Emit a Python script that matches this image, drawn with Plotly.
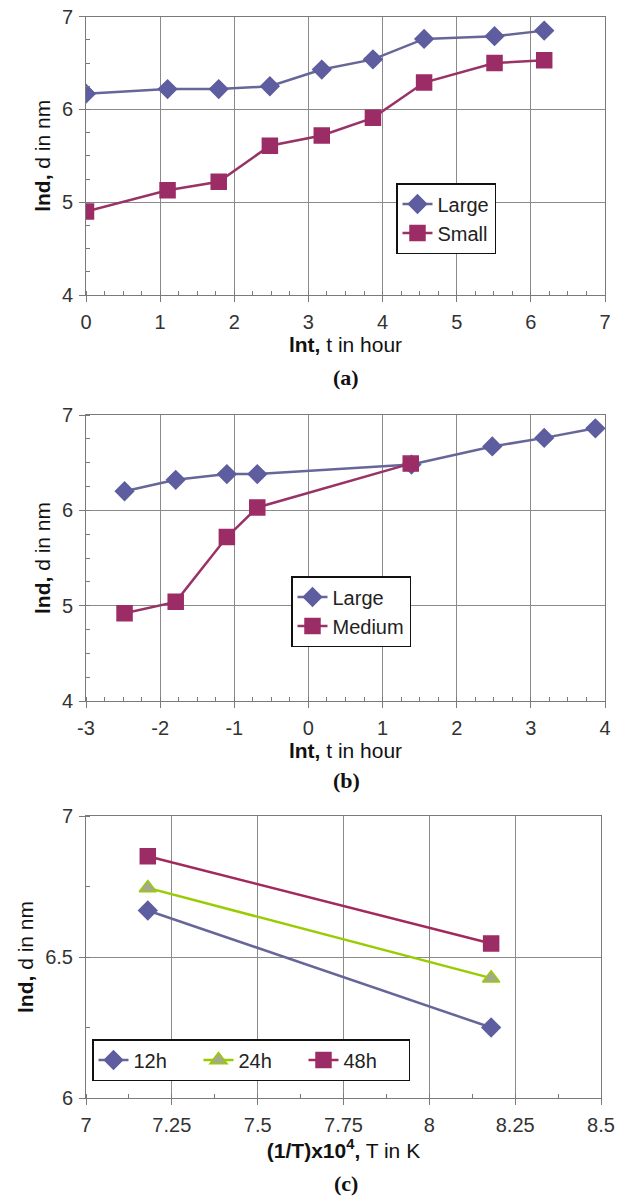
import plotly.graph_objects as go

# ---------------- data ----------------
# panel (a)
a_x = [0, 1.10, 1.79, 2.48, 3.18, 3.87, 4.56, 5.51, 6.18]
a_large = [6.17, 6.22, 6.22, 6.25, 6.43, 6.54, 6.76, 6.79, 6.85]
a_small = [4.90, 5.13, 5.22, 5.61, 5.72, 5.91, 6.29, 6.50, 6.53]

# panel (b)
b_large_x = [-2.48, -1.79, -1.10, -0.69, 1.39, 2.48, 3.18, 3.87]
b_large = [6.20, 6.32, 6.38, 6.38, 6.48, 6.67, 6.76, 6.86]
b_medium_x = [-2.48, -1.79, -1.10, -0.69, 1.38]
b_medium = [4.92, 5.04, 5.72, 6.03, 6.49]

# panel (c)
c_x = [7.18, 8.18]
c_12h = [6.665, 6.25]
c_24h = [6.745, 6.425]
c_48h = [6.857, 6.548]

a_xticks = [0, 1, 2, 3, 4, 5, 6, 7]
a_yticks = [4, 5, 6, 7]
b_xticks = [-3, -2, -1, 0, 1, 2, 3, 4]
b_yticks = [4, 5, 6, 7]
c_xticks = [7, 7.25, 7.5, 7.75, 8, 8.25, 8.5]
c_xticklabels = ["7", "7.25", "7.5", "7.75", "8", "8.25", "8.5"]
c_yticks = [6, 6.5, 7]
c_yticklabels = ["6", "6.5", "7"]

# ---------------- styles ----------------
W, H = 617, 1200
BLUE = "#666699"
BLUE_M = "#5d5d9f"
PURPLE = "#993366"
PURPLE_M = "#9c2c66"
GREEN = "#99cc00"
GRID = "#8a8a8a"
AX = "#7a7a7a"
TICKFONT = dict(family="Arial", size=20, color="#333333")
TITLEFONT = dict(family="Arial", size=21, color="#111111")
LEGFONT = dict(family="Arial", size=20, color="#222222")

fig = go.Figure()

def line_trace(x, y, name, color, mcolor, symbol, msize, xa, ya, leg, mline=None):
    return go.Scatter(
        x=x, y=y, name=name, mode="lines+markers",
        line=dict(color=color, width=2.5),
        marker=dict(symbol=symbol, size=msize, color=mcolor,
                    line=dict(color=mline or mcolor, width=1.5)),
        xaxis=xa, yaxis=ya, legend=leg,
    )

fig.add_trace(line_trace(a_x, a_large, "Large", BLUE, BLUE_M, "diamond", 14, "x", "y", "legend"))
fig.add_trace(line_trace(a_x, a_small, "Small", PURPLE, PURPLE_M, "square", 15, "x", "y", "legend"))
fig.add_trace(line_trace(b_large_x, b_large, "Large", BLUE, BLUE_M, "diamond", 14, "x2", "y2", "legend2"))
fig.add_trace(line_trace(b_medium_x, b_medium, "Medium", PURPLE, PURPLE_M, "square", 15, "x2", "y2", "legend2"))
fig.add_trace(line_trace(c_x, c_12h, "12h", BLUE, BLUE_M, "diamond", 14, "x3", "y3", "legend3"))
fig.add_trace(line_trace(c_x, c_24h, "24h", GREEN, "#a4a88c", "triangle-up", 15, "x3", "y3", "legend3", mline=GREEN))
fig.add_trace(line_trace(c_x, c_48h, "48h", "#a3285e", PURPLE_M, "square", 15, "x3", "y3", "legend3"))

def xdom(right_px):
    return [86 / W, right_px / W]

def ydom(top_px, bot_px):
    return [1 - bot_px / H, 1 - top_px / H]

def xaxis(rng, tickvals, ticktext, minor_dtick, anchor, title, right_px):
    return dict(
        domain=xdom(right_px), range=rng, anchor=anchor, autorange=False,
        tickmode="array", tickvals=tickvals, ticktext=ticktext,
        showline=True, linecolor=AX, linewidth=1, mirror=True,
        showgrid=True, gridcolor=GRID, gridwidth=1, zeroline=False,
        ticks="outside", ticklen=6, tickcolor=AX, tickwidth=1,
        minor=dict(ticks="inside", ticklen=4, tickcolor=AX, dtick=minor_dtick,
                   tick0=rng[0], showgrid=False),
        tickfont=TICKFONT, ticklabelstandoff=3, ticklabeloverflow="allow",
        title=dict(text=title, font=TITLEFONT, standoff=5),
        automargin=False, fixedrange=True,
    )

def yaxis(rng, tickvals, ticktext, minor_dtick, anchor, dom):
    return dict(
        domain=dom, range=rng, anchor=anchor, autorange=False,
        tickmode="array", tickvals=tickvals, ticktext=ticktext,
        showline=True, linecolor=AX, linewidth=1, mirror=True,
        showgrid=True, gridcolor=GRID, gridwidth=1, zeroline=False,
        ticks="outside", ticklen=6, tickcolor=AX, tickwidth=1,
        minor=dict(ticks="inside", ticklen=4, tickcolor=AX, dtick=minor_dtick,
                   tick0=rng[0], showgrid=False),
        tickfont=TICKFONT, ticklabelstandoff=2, ticklabeloverflow="allow",
        title=dict(text="<b>lnd,</b> d in nm", font=TITLEFONT, standoff=5),
        automargin=False, fixedrange=True,
    )

xt = "<b>lnt,</b> t in hour"
fig.update_layout(
    width=W, height=H,
    margin=dict(l=0, r=0, t=0, b=0),
    paper_bgcolor="white", plot_bgcolor="white",
    template="none",
    xaxis=xaxis([0, 7], a_xticks, [str(v) for v in a_xticks], 0.25, "y", xt, 605),
    yaxis=yaxis([4, 7], a_yticks, [str(v) for v in a_yticks], 0.25, "x", ydom(16.7, 295)),
    xaxis2=xaxis([-3, 4], b_xticks, [str(v) for v in b_xticks], 0.25, "y2", xt, 605),
    yaxis2=yaxis([4, 7], b_yticks, [str(v) for v in b_yticks], 0.25, "x2", ydom(415, 701)),
    xaxis3=xaxis([7, 8.5], c_xticks, c_xticklabels, 0.125, "y3",
                 "<b>(1/T)x10<sup>4</sup>,</b> T in K", 601),
    yaxis3=yaxis([6, 7], c_yticks, c_yticklabels, 0.25, "x3", ydom(816, 1098)),
    legend=dict(x=396 / W, y=1 - 183 / H, xanchor="left", yanchor="top",
                bgcolor="white", bordercolor="#111111", borderwidth=1.5,
                font=LEGFONT, tracegroupgap=0),
    legend2=dict(x=291 / W, y=1 - 576 / H, xanchor="left", yanchor="top",
                 bgcolor="white", bordercolor="#111111", borderwidth=1.5,
                 font=LEGFONT, tracegroupgap=0),
    legend3=dict(x=92 / W, y=1 - 1039 / H, xanchor="left", yanchor="top",
                 orientation="h", entrywidth=60,
                 bgcolor="white", bordercolor="#111111", borderwidth=1.5,
                 font=LEGFONT, tracegroupgap=0),
    showlegend=True,
)

panel_labels = ["(a)", "(b)", "(c)"]
panel_label_y = [377, 780, 1183]
for lab, ypx in zip(panel_labels, panel_label_y):
    fig.add_annotation(
        text=f"<b>{lab}</b>", x=346 / W, y=1 - ypx / H, xref="paper", yref="paper",
        showarrow=False, xanchor="center", yanchor="middle",
        font=dict(family="Times New Roman", size=22, color="#111111"),
    )

fig.write_html(
    "out.html",
    config={"displayModeBar": False},
    post_script="document.body.style.margin='0';document.body.style.overflow='hidden';",
)
